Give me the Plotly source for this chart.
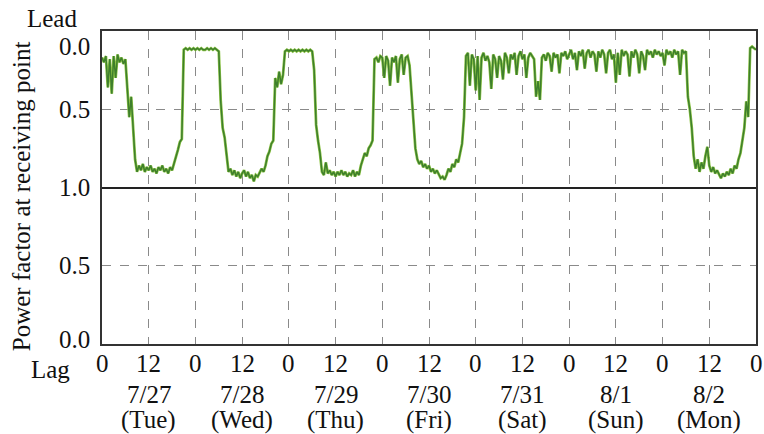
import plotly.graph_objects as go

# Half-hourly power factor readings on the leading side, one list per day
# (48 readings each, starting at 0:00).
pf_0727 = [0.17, 0.20, 0.16, 0.36, 0.18, 0.40, 0.16, 0.30, 0.15, 0.20, 0.17, 0.21,
           0.18, 0.35, 0.55, 0.42, 0.62, 0.82, 0.90, 0.86, 0.89, 0.85, 0.90, 0.87,
           0.89, 0.86, 0.90, 0.88, 0.91, 0.87, 0.89, 0.86, 0.90, 0.88, 0.91, 0.87,
           0.89, 0.84, 0.80, 0.76, 0.71, 0.69, 0.12, 0.11, 0.12, 0.11, 0.12, 0.11]
pf_0728 = [0.12, 0.11, 0.12, 0.11, 0.12, 0.12, 0.11, 0.12, 0.11, 0.12, 0.11, 0.12,
           0.13, 0.45, 0.62, 0.68, 0.80, 0.90, 0.88, 0.92, 0.89, 0.93, 0.90, 0.94,
           0.91, 0.89, 0.93, 0.90, 0.94, 0.92, 0.96, 0.92, 0.93, 0.90, 0.88, 0.90,
           0.86, 0.80, 0.77, 0.72, 0.70, 0.30, 0.36, 0.26, 0.34, 0.28, 0.13, 0.12]
pf_0729 = [0.13, 0.12, 0.13, 0.12, 0.13, 0.12, 0.13, 0.12, 0.13, 0.12, 0.13, 0.12,
           0.13, 0.25, 0.60, 0.70, 0.78, 0.90, 0.92, 0.84, 0.91, 0.89, 0.92, 0.90,
           0.93, 0.90, 0.92, 0.89, 0.92, 0.90, 0.93, 0.91, 0.92, 0.89, 0.93, 0.90,
           0.92, 0.86, 0.82, 0.78, 0.80, 0.75, 0.73, 0.70, 0.18, 0.17, 0.20, 0.16]
pf_0730 = [0.17, 0.30, 0.16, 0.19, 0.35, 0.17, 0.20, 0.16, 0.33, 0.18, 0.15, 0.28,
           0.17, 0.16, 0.22, 0.40, 0.62, 0.75, 0.82, 0.85, 0.83, 0.87, 0.85, 0.88,
           0.86, 0.90, 0.88, 0.91, 0.89, 0.92, 0.94, 0.93, 0.95, 0.92, 0.88, 0.90,
           0.85, 0.87, 0.82, 0.84, 0.78, 0.72, 0.55, 0.16, 0.14, 0.35, 0.15, 0.18]
pf_0731 = [0.38, 0.16, 0.44, 0.17, 0.14, 0.19, 0.16, 0.20, 0.37, 0.15, 0.18, 0.30,
           0.16, 0.19, 0.31, 0.14, 0.17, 0.27, 0.15, 0.18, 0.14, 0.28, 0.16, 0.13,
           0.18, 0.15, 0.30, 0.17, 0.14, 0.16, 0.18, 0.42, 0.32, 0.44, 0.17, 0.15,
           0.19, 0.14, 0.16, 0.26, 0.14, 0.17, 0.15, 0.27, 0.14, 0.16, 0.13, 0.18]
pf_0801 = [0.15, 0.12, 0.18, 0.14, 0.25, 0.13, 0.16, 0.12, 0.24, 0.14, 0.12, 0.17,
           0.13, 0.15, 0.26, 0.13, 0.17, 0.12, 0.15, 0.27, 0.14, 0.12, 0.18, 0.15,
           0.33, 0.14, 0.28, 0.12, 0.16, 0.13, 0.15, 0.29, 0.13, 0.17, 0.12, 0.15,
           0.27, 0.13, 0.16, 0.25, 0.12, 0.15, 0.13, 0.17, 0.12, 0.15, 0.13, 0.16]
pf_0802 = [0.14, 0.22, 0.12, 0.15, 0.13, 0.17, 0.12, 0.15, 0.13, 0.28, 0.12, 0.14,
           0.13, 0.42, 0.50, 0.62, 0.80, 0.88, 0.82, 0.90, 0.84, 0.88, 0.80, 0.74,
           0.86, 0.90, 0.87, 0.91, 0.89, 0.92, 0.94, 0.91, 0.93, 0.90, 0.92, 0.88,
           0.91, 0.86, 0.88, 0.82, 0.78, 0.70, 0.62, 0.45, 0.55, 0.11, 0.10, 0.11]
pf_end = [0.12]  # reading at 0:00 on 8/3

day_labels = ["7/27", "7/28", "7/29", "7/30", "7/31", "8/1", "8/2"]
weekday_labels = ["(Tue)", "(Wed)", "(Thu)", "(Fri)", "(Sat)", "(Sun)", "(Mon)"]
hour_tick_vals = [12 * i for i in range(15)]
hour_tick_text = ["0", "12"] * 7 + ["0"]
y_tick_vals = [-1.0, -0.5, 0.0, 0.5, 1.0]
y_tick_text = ["0.0", "0.5", "1.0", "0.5", "0.0"]

pf = pf_0727 + pf_0728 + pf_0729 + pf_0730 + pf_0731 + pf_0801 + pf_0802 + pf_end
hours = [i * 0.5 for i in range(len(pf))]
# leading side plotted upward from the 1.0 line
y_pos = [1.0 - v for v in pf]

FONT = "Liberation Serif, Times New Roman, serif"
TXT = "#111111"
FS = 25

W, H = 764, 434
ML, MR, MT, MB = 102, 6, 31, 90
plot_w = W - ML - MR
plot_h = H - MT - MB


def px_to_paper_x(px):
    return (px - ML) / plot_w


def px_to_paper_y(py):
    return (H - MB - py) / plot_h


def label(text, **kw):
    d = dict(text=text, showarrow=False,
             font=dict(family=FONT, size=FS, color=TXT))
    d.update(kw)
    return d


fig = go.Figure()
fig.add_trace(go.Scatter(x=hours, y=y_pos, mode="lines",
                         line=dict(color="#8dc446", width=2.8), hoverinfo="skip",
                         showlegend=False))
fig.add_trace(go.Scatter(x=hours, y=y_pos, mode="lines",
                         line=dict(color="#3e7f2c", width=1.5),
                         showlegend=False))

fig.update_xaxes(range=[0, 168], tickmode="array", tickvals=hour_tick_vals,
                 showticklabels=False,
                 showgrid=True, gridcolor="#8a8a8a", griddash="dash", gridwidth=1,
                 showline=True, linecolor="#333", linewidth=1.5, mirror=True,
                 zeroline=False)
fig.update_yaxes(range=[-1, 1], tickmode="array", tickvals=[-0.5, 0.5],
                 showticklabels=False,
                 showgrid=True, gridcolor="#8a8a8a", griddash="dash", gridwidth=1,
                 zeroline=True, zerolinecolor="#222", zerolinewidth=1.5,
                 showline=True, linecolor="#333", linewidth=1.5, mirror=True)

annotations = []
# y tick labels
y_shifts = [5, 0, 0, 0, -15]
for v, t, s in zip(y_tick_vals, y_tick_text, y_shifts):
    annotations.append(label(t, x=0, xref="paper", xanchor="right", xshift=-10,
                             y=v, yref="y", yshift=s, yanchor="middle"))
# hour tick labels
for v, t in zip(hour_tick_vals, hour_tick_text):
    annotations.append(label(t, x=v, xref="x", y=px_to_paper_y(363), yref="paper",
                             xanchor="center", yanchor="middle"))
# day labels under the hour ticks
for d, (dl, wl) in enumerate(zip(day_labels, weekday_labels)):
    annotations.append(label(dl, x=24 * d + 12, xref="x", y=px_to_paper_y(394),
                             yref="paper", yanchor="middle"))
    annotations.append(label(wl, x=24 * d + 12, xref="x", y=px_to_paper_y(420),
                             yref="paper", yanchor="middle"))

side_labels = [("Lead", 52, 19), ("Lag", 50, 369)]
for text, px, py in side_labels:
    annotations.append(label(text, x=px_to_paper_x(px), xref="paper",
                             y=px_to_paper_y(py), yref="paper",
                             xanchor="center", yanchor="middle"))

annotations.append(label("Power factor at receiving point",
                         x=px_to_paper_x(21), xref="paper",
                         y=px_to_paper_y(196), yref="paper", textangle=-90,
                         xanchor="center", yanchor="middle"))

fig.update_layout(
    width=W, height=H,
    margin=dict(l=ML, r=MR, t=MT, b=MB),
    paper_bgcolor="white", plot_bgcolor="white",
    showlegend=False,
    annotations=annotations,
)

fig.write_html("out.html")
